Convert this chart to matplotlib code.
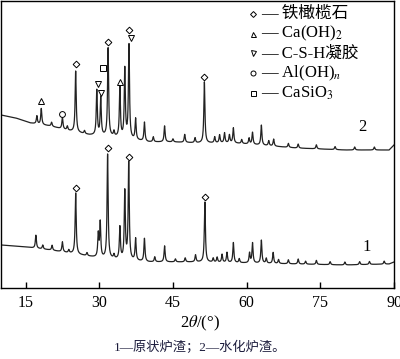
#!/usr/bin/env python
# XRD patterns of raw slag (1) and hydrated slag (2)

import numpy as np
import matplotlib
matplotlib.use("Agg")
import matplotlib.pyplot as plt

plt.rcParams['font.family'] = ['Liberation Serif', 'Noto Sans CJK SC']
plt.rcParams['mathtext.fontset'] = 'stix'

# baselines (2theta, intensity in arbitrary units)
base1_x = [10, 15, 20, 25, 30, 40, 50, 60, 70, 80, 89, 90]
base1_y = [43, 41, 38, 34, 30, 26, 26, 25, 24, 23, 24, 26]
base2_x = [10, 13, 16, 20, 24, 28, 33, 40, 45, 50, 57, 60, 70, 80, 89, 90]
base2_y = [173, 170, 165, 162, 157, 153, 151, 146, 146, 145, 145, 144, 140, 138, 138, 143]

# peaks of pattern 1: position, height above baseline
peaks1_pos = [17.1, 18.5, 20.4, 22.5, 23.8, 25.2, 27.5, 29.8, 30.2, 31.7, 33.0, 34.2,
              35.2, 36.0, 37.4, 39.2, 41.3, 43.3, 45.5, 47.5, 49.6, 51.5, 53.2, 54.0,
              55.0, 56.0, 57.3, 58.5, 60.6, 61.2, 63.0, 64.0, 65.4, 66.5, 68.5, 70.5,
              72.0, 74.2, 77.0, 80.0, 83.0, 85.0, 88.0]
peaks1_h = [13, 4, 5, 10, 3, 61, 3, 23, 35, 104, 4, 32,
            68, 97, 22, 23, 5, 16, 3, 4, 7, 60, 4, 5,
            8, 10, 20, 4, 10, 20, 23, 5, 11, 4, 4, 5,
            3, 4, 3, 3, 3, 3, 3]

# peaks of pattern 2
peaks2_pos = [17.3, 18.2, 20.3, 22.5, 23.5, 25.2, 27.0, 29.5, 30.3, 31.8, 33.0, 34.2,
              35.2, 36.05, 37.4, 39.2, 41.0, 43.3, 45.0, 47.4, 49.5, 51.4, 53.5, 54.5,
              55.5, 56.5, 57.3, 59.0, 60.5, 61.2, 63.0, 64.5, 65.5, 68.5, 70.5, 74.2,
              78.0, 82.0, 86.0]
peaks2_h = [8, 16, 4, 12, 4, 61, 3, 45, 38, 88, 5, 50,
            69, 94, 21, 19, 5, 16, 3, 8, 5, 61, 6, 8,
            10, 8, 15, 4, 6, 12, 20, 5, 7, 4, 4, 4,
            3, 3, 3]
peaks_w = 0.13

# phase markers on pattern 2: (symbol, 2theta, height)
marks2_sym = ['^', 'o', 'D', 'v', 'v', 's', 'D', '^', 'D', 'v', 'D']
marks2_x = [18.2, 22.5, 25.2, 29.7, 30.4, 30.7, 31.8, 34.2, 36.05, 36.4, 51.4]
marks2_y = [187, 174, 224, 204, 195, 220, 246, 206, 258, 250, 211]
# phase markers on pattern 1
marks1_x = [25.2, 31.7, 36.05, 51.5]
marks1_y = [100, 140, 131, 91]

legend_sym = ['D', '^', 'v', 'o', 's']
legend_lab = ['— 铁橄榄石', '— Ca(OH)$_2$', '— C-S-H凝胶', '— Al(OH)$_n$', '— CaSiO$_3$']

xticks = [15, 30, 45, 60, 75, 90]


def pattern(x, bx, by, pos, h):
    y = np.interp(x, bx, by)
    for p, a in zip(pos, h):
        y = y + a / (1 + ((x - p) / peaks_w) ** 2)
    return y


x = np.linspace(10, 90, 4001)
y1 = pattern(x, base1_x, base1_y, peaks1_pos, peaks1_h)
y2 = pattern(x, base2_x, base2_y, peaks2_pos, peaks2_h)

fig = plt.figure(figsize=(4.0, 3.59), dpi=100)
ax = fig.add_axes([1 / 400, 1 - 288 / 359, 393 / 400, 287 / 359])

ax.plot(x, y1, color="#222222", lw=0.9)
ax.plot(x, y2, color="#222222", lw=0.9)

mk = dict(mfc="white", mec="black", mew=0.7, ls="none")
for s, mx, my in zip(marks2_sym, marks2_x, marks2_y):
    ax.plot([mx], [my], marker=s, ms=3.4 if s == 'D' else 4.2, **mk)
ax.plot(marks1_x, marks1_y, marker='D', ms=3.4, **mk)

ax.text(83.5, 161, "2", fontsize=12, ha="center", va="center")
ax.text(84.5, 41, "1", fontsize=12, ha="center", va="center")

# legend drawn by hand: marker, dash and label per row
for i, (s, lab) in enumerate(zip(legend_sym, legend_lab)):
    yy = (288 - (14 + 19.7 * i)) / 287
    ax.plot([(253 - 1) / 393], [yy], marker=s, ms=3.0 if s == 'D' else 3.6,
            transform=ax.transAxes, clip_on=False, **mk)
    ax.text((261 - 1) / 393, yy, lab, fontsize=12, ha="left", va="center",
            transform=ax.transAxes)

ax.set_xlim(10, 90)
ax.set_ylim(0, 287)
ax.set_xticks(xticks)
ax.set_yticks([])
ax.tick_params(axis="x", direction="in", length=4.5, width=1, labelsize=11.5, pad=5)
for sp in ax.spines.values():
    sp.set_linewidth(1.0)

fig.text(0.5, 1 - 323 / 359, r"2$\theta$/(°)", fontsize=12, ha="center", va="center")
fig.text(0.5, 1 - 348 / 359, "1—原状炉渣；2—水化炉渣。", fontsize=9.5,
         ha="center", va="center", color="#1c1c3c")

fig.savefig("out.png", dpi=100)
